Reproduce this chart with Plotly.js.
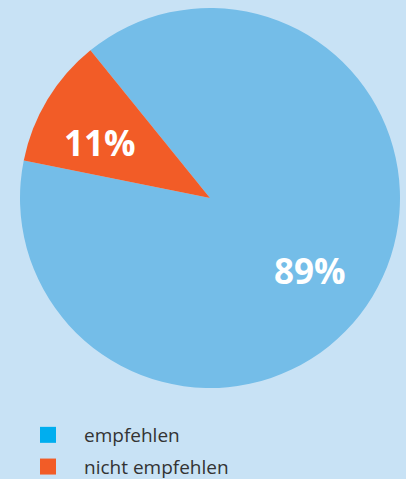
<!DOCTYPE html>
<html>
<head>
<meta charset="utf-8">
<script src="https://cdn.plot.ly/plotly-3.0.1.min.js"></script>
<style>html,body{margin:0;padding:0;background:#c8e2f5;}#chart{width:406px;height:479px;}</style>
</head>
<body>
<div id="chart"></div>
<script>
const categories = ["empfehlen", "nicht empfehlen"];
const values = [89, 11];
const percentLabels = ["89%", "11%"];
const sliceColors = ["#74bde8", "#f25c27"];
const legendColors = ["#00aeef", "#f25c27"];

const W = 406, H = 479;
const pie = {
  type: "pie",
  labels: categories,
  values: values,
  sort: false,
  direction: "clockwise",
  rotation: -39,
  marker: {colors: sliceColors, line: {width: 0}},
  textinfo: "none",
  hoverinfo: "none",
  showlegend: false,
  domain: {x: [20/W, 400/W], y: [91/H, 471/H]}
};

const legendTraces = categories.map((c, i) => ({
  type: "scatter",
  x: [null], y: [null],
  mode: "markers",
  name: c,
  legendgroup: "g" + i,
  marker: {symbol: "square", size: 17, color: legendColors[i]},
  hoverinfo: "none"
}));

// label anchor points (pixel positions inside the slices)
const labelPos = [[310, 270], [100, 142]];
const annotations = percentLabels.map((t, i) => ({
  text: t,
  xref: "paper", yref: "paper",
  x: labelPos[i][0] / W, y: 1 - labelPos[i][1] / H,
  xanchor: "center", yanchor: "middle",
  showarrow: false,
  font: {family: "Open Sans", size: 35, color: "#ffffff", weight: 700}
}));

const layout = {
  width: W, height: H,
  margin: {l: 0, r: 0, t: 0, b: 0, autoexpand: false},
  paper_bgcolor: "#c8e2f5",
  plot_bgcolor: "#c8e2f5",
  xaxis: {visible: false},
  yaxis: {visible: false},
  showlegend: true,
  annotations: annotations,
  legend: {
    x: 12 / W, y: 1 - 416 / H, xanchor: "left", yanchor: "top",
    orientation: "v",
    bgcolor: "rgba(0,0,0,0)",
    font: {family: "Open Sans", size: 19, color: "#333333"},
    itemwidth: 62,
    tracegroupgap: 4
  }
};

Plotly.newPlot("chart", [pie, ...legendTraces], layout, {displayModeBar: false, staticPlot: true});
</script>
</body>
</html>
